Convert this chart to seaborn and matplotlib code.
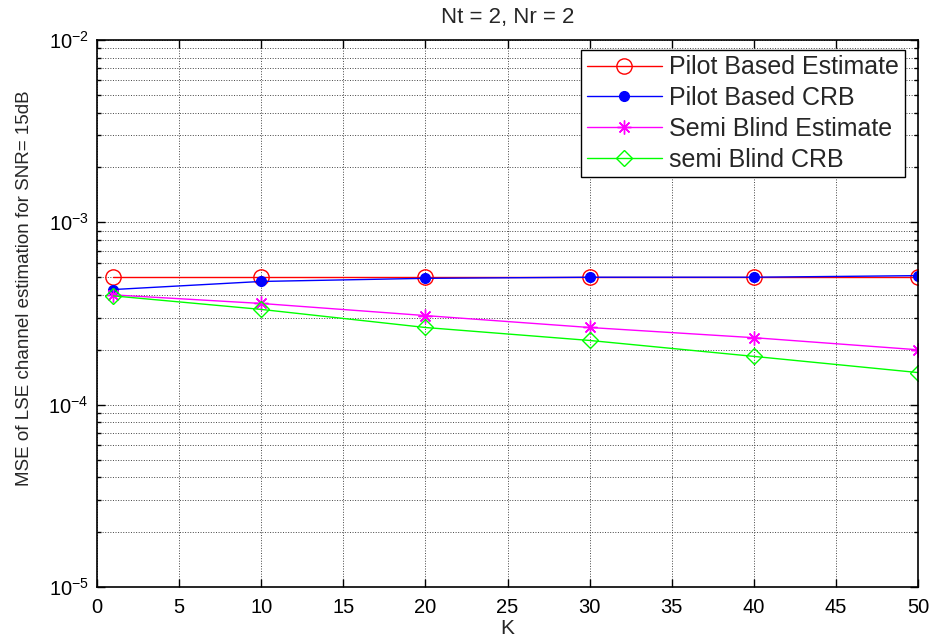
import matplotlib
matplotlib.use("Agg")
import matplotlib.pyplot as plt
import seaborn as sns
import pandas as pd
import numpy as np
from matplotlib.ticker import LogLocator, FixedLocator

K = [1, 10, 20, 30, 40, 50]
pilot_est = [5.0e-4, 5.0e-4, 5.0e-4, 5.0e-4, 5.0e-4, 5.0e-4]
pilot_crb = [4.28e-4, 4.74e-4, 4.93e-4, 5.0e-4, 5.0e-4, 5.1e-4]
semi_est = [4.0e-4, 3.59e-4, 3.08e-4, 2.65e-4, 2.33e-4, 2.0e-4]
semi_crb = [3.95e-4, 3.33e-4, 2.65e-4, 2.25e-4, 1.84e-4, 1.5e-4]
labels = ["Pilot Based Estimate", "Pilot Based CRB", "Semi Blind Estimate", "semi Blind CRB"]
xticks = [0, 5, 10, 15, 20, 25, 30, 35, 40, 45, 50]

sns.set_theme(style="white")
plt.rcParams['font.family'] = ['Liberation Sans', 'DejaVu Sans']
plt.rcParams['mathtext.fontset'] = 'custom'
plt.rcParams['mathtext.rm'] = 'Liberation Sans'
plt.rcParams['mathtext.it'] = 'Liberation Sans'

fig = plt.figure(figsize=(9.33, 6.44), dpi=100)
ax = fig.add_axes([97/933, 1 - 587/644, (918-97)/933, (587-40)/644])

series = [pilot_est, pilot_crb, semi_est, semi_crb]
colors = ["#ff0000", "#0000ff", "#ff00ff", "#00ff00"]
markers = ["o", "o", (8, 2, 0), "D"]
mfc = ["none", "#0000ff", "#ff00ff", "none"]
msize = [11, 7, 10, 8]

for vals, lab, c, m, fc, ms in zip(series, labels, colors, markers, mfc, msize):
    df = pd.DataFrame({"K": K, "MSE": vals})
    sns.lineplot(data=df, x="K", y="MSE", ax=ax, color=c, marker=m,
                 markerfacecolor=fc, markeredgecolor=c, markersize=ms,
                 linewidth=1.0, label=lab, markeredgewidth=1.0)

ax.set_yscale("log")
ax.set_xlim(0, 50)
ax.set_ylim(1e-5, 1e-2)
ax.set_xticks(xticks)
ax.yaxis.set_major_locator(FixedLocator([1e-5, 1e-4, 1e-3, 1e-2]))
ax.yaxis.set_minor_locator(LogLocator(base=10, subs=np.arange(2, 10), numticks=20))

ax.grid(True, which="major", color="#444444", linestyle=":", linewidth=0.7)
ax.grid(True, which="minor", axis="y", color="#444444", linestyle=":", linewidth=0.7)
ax.tick_params(which="both", direction="in", top=True, right=True,
               bottom=True, left=True, labelsize=14.5, colors="black")
ax.tick_params(axis="x", which="major", pad=8)
ax.tick_params(axis="y", which="major", pad=6)
ax.tick_params(which="major", length=6, width=1)
ax.tick_params(which="minor", length=3, width=1)
for s in ax.spines.values():
    s.set_color("black")
    s.set_linewidth(1.2)

ax.set_xlabel("K", fontsize=15, labelpad=1)
ax.set_ylabel("MSE of LSE channel estimation for SNR= 15dB", fontsize=13.5)
ax.yaxis.set_label_coords(-0.078, 0.547)
ax.set_title("Nt = 2, Nr = 2", fontsize=16, pad=12)

leg = ax.legend(loc="upper right", bbox_to_anchor=(0.984, 0.982), borderaxespad=0,
                fontsize=18, handlelength=3.0, frameon=True, fancybox=False,
                labelspacing=0.27, borderpad=0.22, handletextpad=0.3)
leg.get_frame().set_edgecolor("black")
leg.get_frame().set_linewidth(1.0)
leg.get_frame().set_alpha(1.0)

fig.savefig("out.png", dpi=100, facecolor="white")
